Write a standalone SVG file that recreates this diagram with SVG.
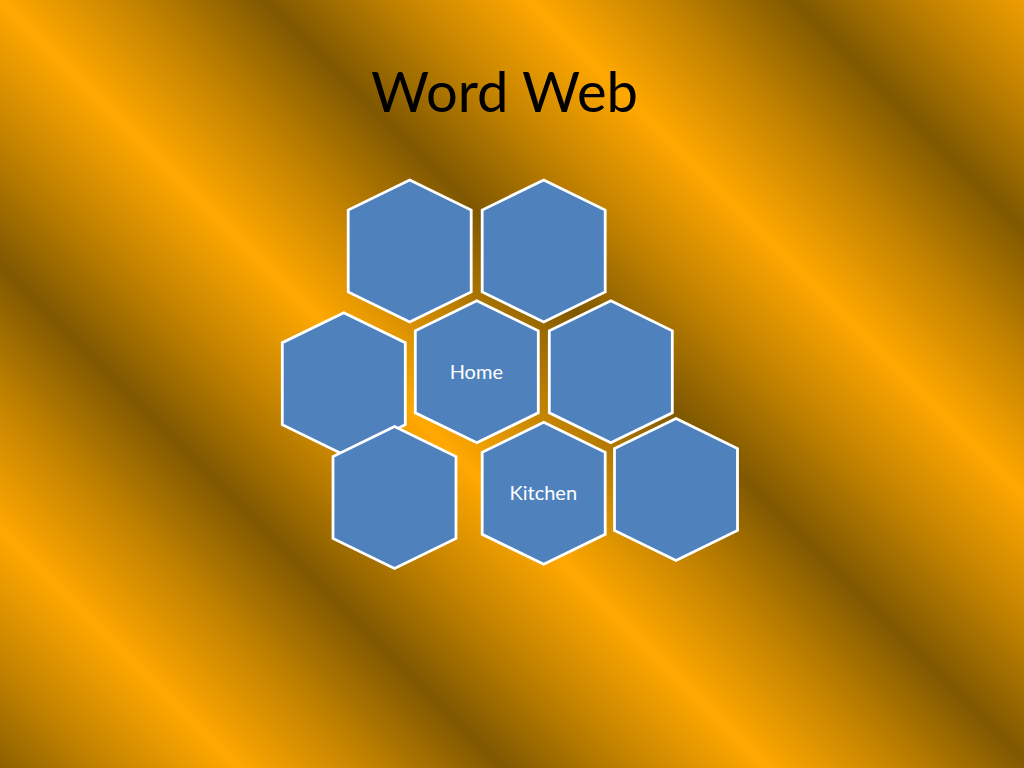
<svg xmlns="http://www.w3.org/2000/svg" xmlns:xlink="http://www.w3.org/1999/xlink" width="1024" height="768" viewBox="0 0 1024 768">
  <defs>
    <linearGradient id="bg" gradientUnits="userSpaceOnUse" x1="0" y1="0" x2="132.5" y2="-132.5" spreadMethod="reflect">
      <stop offset="0" stop-color="#FFA800"/>
      <stop offset="0.5" stop-color="#C38300"/>
      <stop offset="1" stop-color="#7F5800"/>
    </linearGradient>
    <polygon id="hex" points="0,-71 61.5,-41 61.5,41 0,71 -61.5,41 -61.5,-41"/>
    <style>
      .hex { fill: #4F81BD; stroke: #FFFFFF; stroke-width: 2.8; stroke-linejoin: miter; }
      .title { font-family: Lato, "Liberation Sans", sans-serif; font-size: 57px; fill: #000000; text-anchor: middle; }
      .label { font-family: Lato, "Liberation Sans", sans-serif; font-size: 20px; fill: #FFFFFF; text-anchor: middle; }
    </style>
  </defs>

  <rect x="0" y="0" width="1024" height="768" fill="url(#bg)"/>

  <text class="title" x="504.5" y="112.3" textLength="267" lengthAdjust="spacingAndGlyphs">Word Web</text>

  <g id="connectors"/>

  <g id="hex-top-left"><use xlink:href="#hex" href="#hex" class="hex" x="409.7" y="251"/></g>
  <g id="hex-top-right"><use xlink:href="#hex" href="#hex" class="hex" x="543.7" y="251"/></g>
  <g id="hex-mid-left"><use xlink:href="#hex" href="#hex" class="hex" x="343.8" y="383.7"/></g>
  <g id="hex-home">
    <use xlink:href="#hex" href="#hex" class="hex" x="476.8" y="371.8"/>
    <text class="label" x="476.3" y="379">Home</text>
  </g>
  <g id="hex-mid-right"><use xlink:href="#hex" href="#hex" class="hex" x="610.8" y="371.8"/></g>
  <g id="hex-bottom-left"><use xlink:href="#hex" href="#hex" class="hex" x="394.5" y="497.5"/></g>
  <g id="hex-kitchen">
    <use xlink:href="#hex" href="#hex" class="hex" x="543.7" y="493.3"/>
    <text class="label" x="543.3" y="500">Kitchen</text>
  </g>
  <g id="hex-bottom-right"><use xlink:href="#hex" href="#hex" class="hex" x="676" y="489.5"/></g>
</svg>
